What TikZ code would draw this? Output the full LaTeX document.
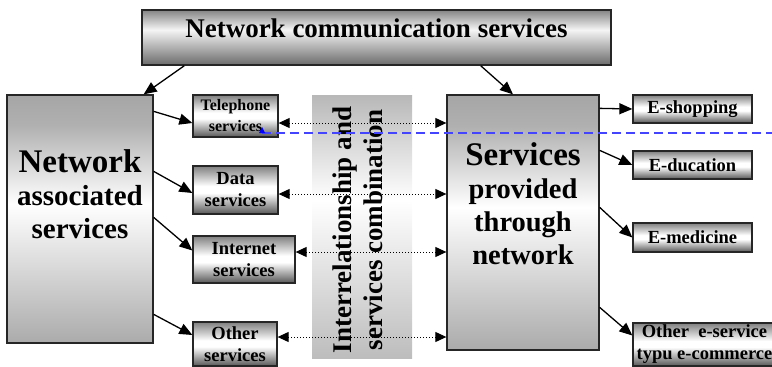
\documentclass[tikz,border=0pt]{standalone}
\usepackage{fontspec}
\setmainfont{Liberation Serif}
\usetikzlibrary{arrows.meta,positioning,calc}

\newcommand{\setfs}[2]{\fontsize{#1}{#2}\selectfont}
\definecolor{guideblue}{RGB}{68,68,255}

% cylinder-like fills (0bp = bottom, 25..75bp = node)
\pgfdeclareverticalshading{btnshade}{100bp}{color(0bp)=(black!66); color(25bp)=(black!66); color(47bp)=(white); color(54bp)=(white); color(75bp)=(black!50); color(100bp)=(black!50)}
\pgfdeclareverticalshading{bigshade}{100bp}{color(0bp)=(black!33); color(25bp)=(black!33); color(53bp)=(white); color(69bp)=(black!31); color(75bp)=(black!35); color(100bp)=(black!35)}
\pgfdeclareverticalshading{midshade}{100bp}{color(0bp)=(black!26); color(25bp)=(black!26); color(55bp)=(white); color(75bp)=(black!28); color(100bp)=(black!28)}
\pgfdeclareverticalshading{topshade}{100bp}{color(0bp)=(black!58); color(25bp)=(black!58); color(57bp)=(black!4); color(75bp)=(black!48); color(100bp)=(black!48)}

\begin{document}
\begin{tikzpicture}[
  x=1pt, y=-1pt,
  btn/.style={draw=black!85, line width=1.3pt, shade, shading=btnshade, inner sep=0pt,
    align=center, font=\bfseries\setfs{18.5}{22}},
  bigbox/.style={draw=black!85, line width=1.3pt, shade, shading=bigshade, inner sep=0pt},
  bigtext/.style={align=center, font=\bfseries\setfs{28.5}{33}},
  arrow/.style={-{Triangle[length=13pt,width=11pt]}, line width=1.3pt},
  dotarrow/.style={{Triangle[length=11pt,width=10pt]}-{Triangle[length=11pt,width=10pt]},
    dotted, line width=1pt}
]
\useasboundingbox (0,0) rectangle (772,367);

% top
\node[draw=black!85, line width=1.5pt, shade, shading=topshade, inner sep=0pt,
  minimum width=469pt, minimum height=55pt] (comm) at (376.5,37.5) {};
\node[font=\bfseries\setfs{27}{30}] (comm-t) at (376.5,28) {Network communication services};

% left block
\node[bigbox, minimum width=146pt, minimum height=248pt] (assoc) at (80,219) {};
\node[bigtext, font=\bfseries\setfs{29}{33}] (assoc-t) at (80,194)
  {{\setfs{33}{33}Network}\\associated\\services};

% right block
\node[bigbox, minimum width=152pt, minimum height=255pt] (prov) at (523,222.5) {};
\node[bigtext] (prov-t) at (523,203.5)
  {{\setfs{33}{33}Services}\\provided\\through\\network};

% middle band
\node[shade, shading=midshade, inner sep=0pt, minimum width=100pt, minimum height=263pt]
  (mid) at (362,226.5) {};
\node[rotate=90, align=center, font=\bfseries\setfs{27}{31}] (mid-t) at (358,230)
  {Interrelationship and\\services combination};

% network services
\node[btn, font=\bfseries\setfs{16}{21}, minimum width=85pt, minimum height=42pt] (tel) at (235.5,116)
  {Telephone\\services};
\node[btn, minimum width=85pt, minimum height=48pt] (data) at (235.5,190) {Data\\services};
\node[btn, minimum width=102pt, minimum height=47pt] (inet) at (244,259.5) {Internet\\services};
\node[btn, minimum width=84pt, minimum height=44pt] (oth) at (235,344) {Other\\services};

% e-services
\node[btn, minimum width=119pt, minimum height=28pt] (shop) at (692.5,109) {E-shopping};
\node[btn, minimum width=119pt, minimum height=28pt] (edu) at (692.5,165) {E-ducation};
\node[btn, minimum width=119pt, minimum height=29pt] (med) at (692.5,237.5) {E-medicine};
\node[btn, minimum width=143pt, minimum height=43pt] (oe) at (704.5,344.5)
  {Other\ \ e-service\\typu e-commerce};

\draw[arrow] ([xshift=43pt]comm.south west) -- ([xshift=-10pt]assoc.north east);
\draw[arrow] ([xshift=-131pt]comm.south east) -- ([xshift=-10pt]prov.north);

\draw[arrow] ([yshift=-17pt]assoc.north east) -- ([yshift=-7pt]tel.west);
\draw[arrow] ([yshift=-77pt]assoc.north east) -- ([yshift=-3pt]data.west);
\draw[arrow] ([yshift=-123pt]assoc.north east) -- ([yshift=9pt]inet.west);
\draw[arrow] ([yshift=-220pt]assoc.north east) -- ([yshift=9pt]oth.west);

\draw[arrow] ([yshift=-14pt]prov.north east) -- (shop.west);
\draw[arrow] ([yshift=-56pt]prov.north east) -- (edu.west);
\draw[arrow] ([yshift=-113pt]prov.north east) -- (med.west);
\draw[arrow] ([yshift=-213pt]prov.north east) -- ([yshift=9pt]oe.west);

% interrelations
\foreach \n/\s in {tel/-7,data/-4,inet/7.5,oth/7} {
  \coordinate (\n-r) at ([yshift=\s pt]\n.east);
  \draw[dotarrow] (\n-r) -- (\n-r -| prov.west);
}

% blue guide
\coordinate (bl) at (262,133);
\coordinate (br) at (772,133);
\draw[guideblue, dash pattern=on 9pt off 5pt, line width=1.3pt] (bl) -- (br);
\fill[blue] (bl) ++(-3,0) -- ++(3,-6) -- ++(3,6) -- cycle;
\end{tikzpicture}
\end{document}
